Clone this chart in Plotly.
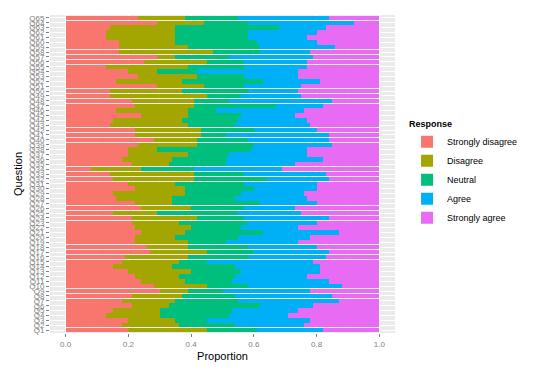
import plotly.graph_objects as go

questions = [f"Q{i}" for i in range(1, 66)]
responses = ["Strongly disagree", "Disagree", "Neutral", "Agree", "Strongly agree"]
colors = ["#F8766D", "#A3A500", "#00BF7D", "#00B0F6", "#E76BF3"]
x_ticks = [0, 0.2, 0.4, 0.6, 0.8, 1.0]

# proportions per question, Q1 .. Q65
strongly_disagree = [.20, .18, .20, .13, .15, .21, .18, .21, .30, .28, .24, .22, .20, .15, .18, .19, .27, .26, .22, .22,
                     .24, .22, .21, .21, .15, .24, .22, .16, .15, .22, .20, .15, .14, .08, .21, .18, .20, .20, .23, .28,
                     .22, .22, .14, .15, .24, .16, .22, .21, .14, .14, .29, .16, .23, .20, .13, .25, .29, .17, .17, .17,
                     .13, .13, .14, .29, .23]
disagree = [.25, .18, .15, .17, .15, .12, .17, .16, .09, .17, .14, .14, .20, .19, .18, .20, .18, .13, .17, .13,
            .14, .18, .15, .21, .14, .16, .12, .18, .23, .16, .15, .26, .27, .16, .12, .16, .19, .09, .19, .14,
            .21, .21, .25, .22, .15, .23, .19, .20, .31, .23, .15, .21, .19, .09, .26, .20, .06, .30, .22, .18,
            .22, .22, .21, .15, .15]
neutral = [.16, .18, .10, .22, .23, .29, .20, .17, .11, .13, .15, .18, .16, .20, .09, .19, .15, .19, .12, .20,
           .25, .16, .22, .15, .26, .17, .28, .20, .18, .22, .22, .23, .16, .17, .18, .17, .13, .30, .18, .16,
           .08, .17, .15, .18, .17, .09, .26, .11, .11, .21, .13, .26, .15, .13, .18, .12, .17, .15, .23, .26,
           .23, .23, .33, .14, .17]
agree = [.21, .22, .33, .19, .21, .17, .32, .31, .28, .30, .31, .23, .25, .27, .34, .25, .24, .22, .23, .23,
         .24, .18, .22, .27, .20, .16, .18, .23, .20, .20, .23, .20, .26, .28, .22, .31, .25, .18, .25, .26,
         .33, .20, .24, .22, .17, .28, .15, .33, .19, .16, .18, .18, .17, .32, .20, .20, .27, .16, .24, .19,
         .19, .22, .15, .34, .29]
strongly_agree = [.18, .24, .22, .29, .26, .21, .13, .15, .22, .12, .16, .23, .19, .19, .21, .17, .16, .20, .26, .22,
                  .13, .26, .20, .16, .25, .27, .20, .23, .24, .20, .20, .16, .17, .31, .27, .18, .23, .23, .15, .16,
                  .16, .20, .22, .23, .27, .24, .18, .15, .25, .26, .25, .19, .26, .26, .23, .23, .21, .22, .14, .20,
                  .23, .20, .17, .08, .16]

series = [strongly_disagree, disagree, neutral, agree, strongly_agree]

fig = go.Figure()
for name, vals, col in zip(responses, series, colors):
    fig.add_trace(go.Bar(
        y=questions, x=vals, name=name, orientation="h",
        marker=dict(color=col, line=dict(width=0)),
        legendgroup=name,
    ))

font_family = "Arial, Liberation Sans, sans-serif"
fig.update_layout(
    barmode="stack",
    bargap=0.1,
    width=540, height=375,
    margin=dict(l=42, r=153, t=7, b=50),
    paper_bgcolor="white",
    plot_bgcolor="#EBEBEB",
    font=dict(family=font_family, color="#4D4D4D", size=8),
    xaxis=dict(
        range=[-0.05, 1.05],
        tickmode="array",
        tickvals=x_ticks,
        tickformat=".1f",
        showgrid=True, gridcolor="white", gridwidth=1,
        minor=dict(tickvals=[0.1, 0.3, 0.5, 0.7, 0.9], showgrid=True, gridcolor="#F5F5F5", gridwidth=0.5),
        zeroline=False,
        ticks="outside", ticklen=3, tickcolor="#7F7F7F",
        tickfont=dict(size=8, color="#7F7F7F"),
        automargin=False,
        title=dict(text="Proportion", font=dict(size=11, color="black"), standoff=4),
    ),
    yaxis=dict(
        categoryorder="array", categoryarray=questions,
        tickmode="array", tickvals=questions, ticktext=questions,
        range=[-0.6, 64.6],
        showgrid=True, gridcolor="white", gridwidth=1,
        zeroline=False,
        ticks="outside", ticklen=3, tickcolor="#7F7F7F",
        tickfont=dict(size=8, color="#7F7F7F"),
        automargin=False,
        title=dict(text="Question", font=dict(size=11, color="black"), standoff=4),
    ),
    legend=dict(
        title=dict(text="<b>Response</b>", font=dict(size=9, color="black")),
        x=1.035, xanchor="left", y=0.50, yanchor="middle",
        font=dict(size=9, color="black"),
        tracegroupgap=10,
        traceorder="normal",
        itemwidth=30,
        itemsizing="constant",
        bgcolor="rgba(0,0,0,0)",
    ),
)

fig.write_html("out.html")
